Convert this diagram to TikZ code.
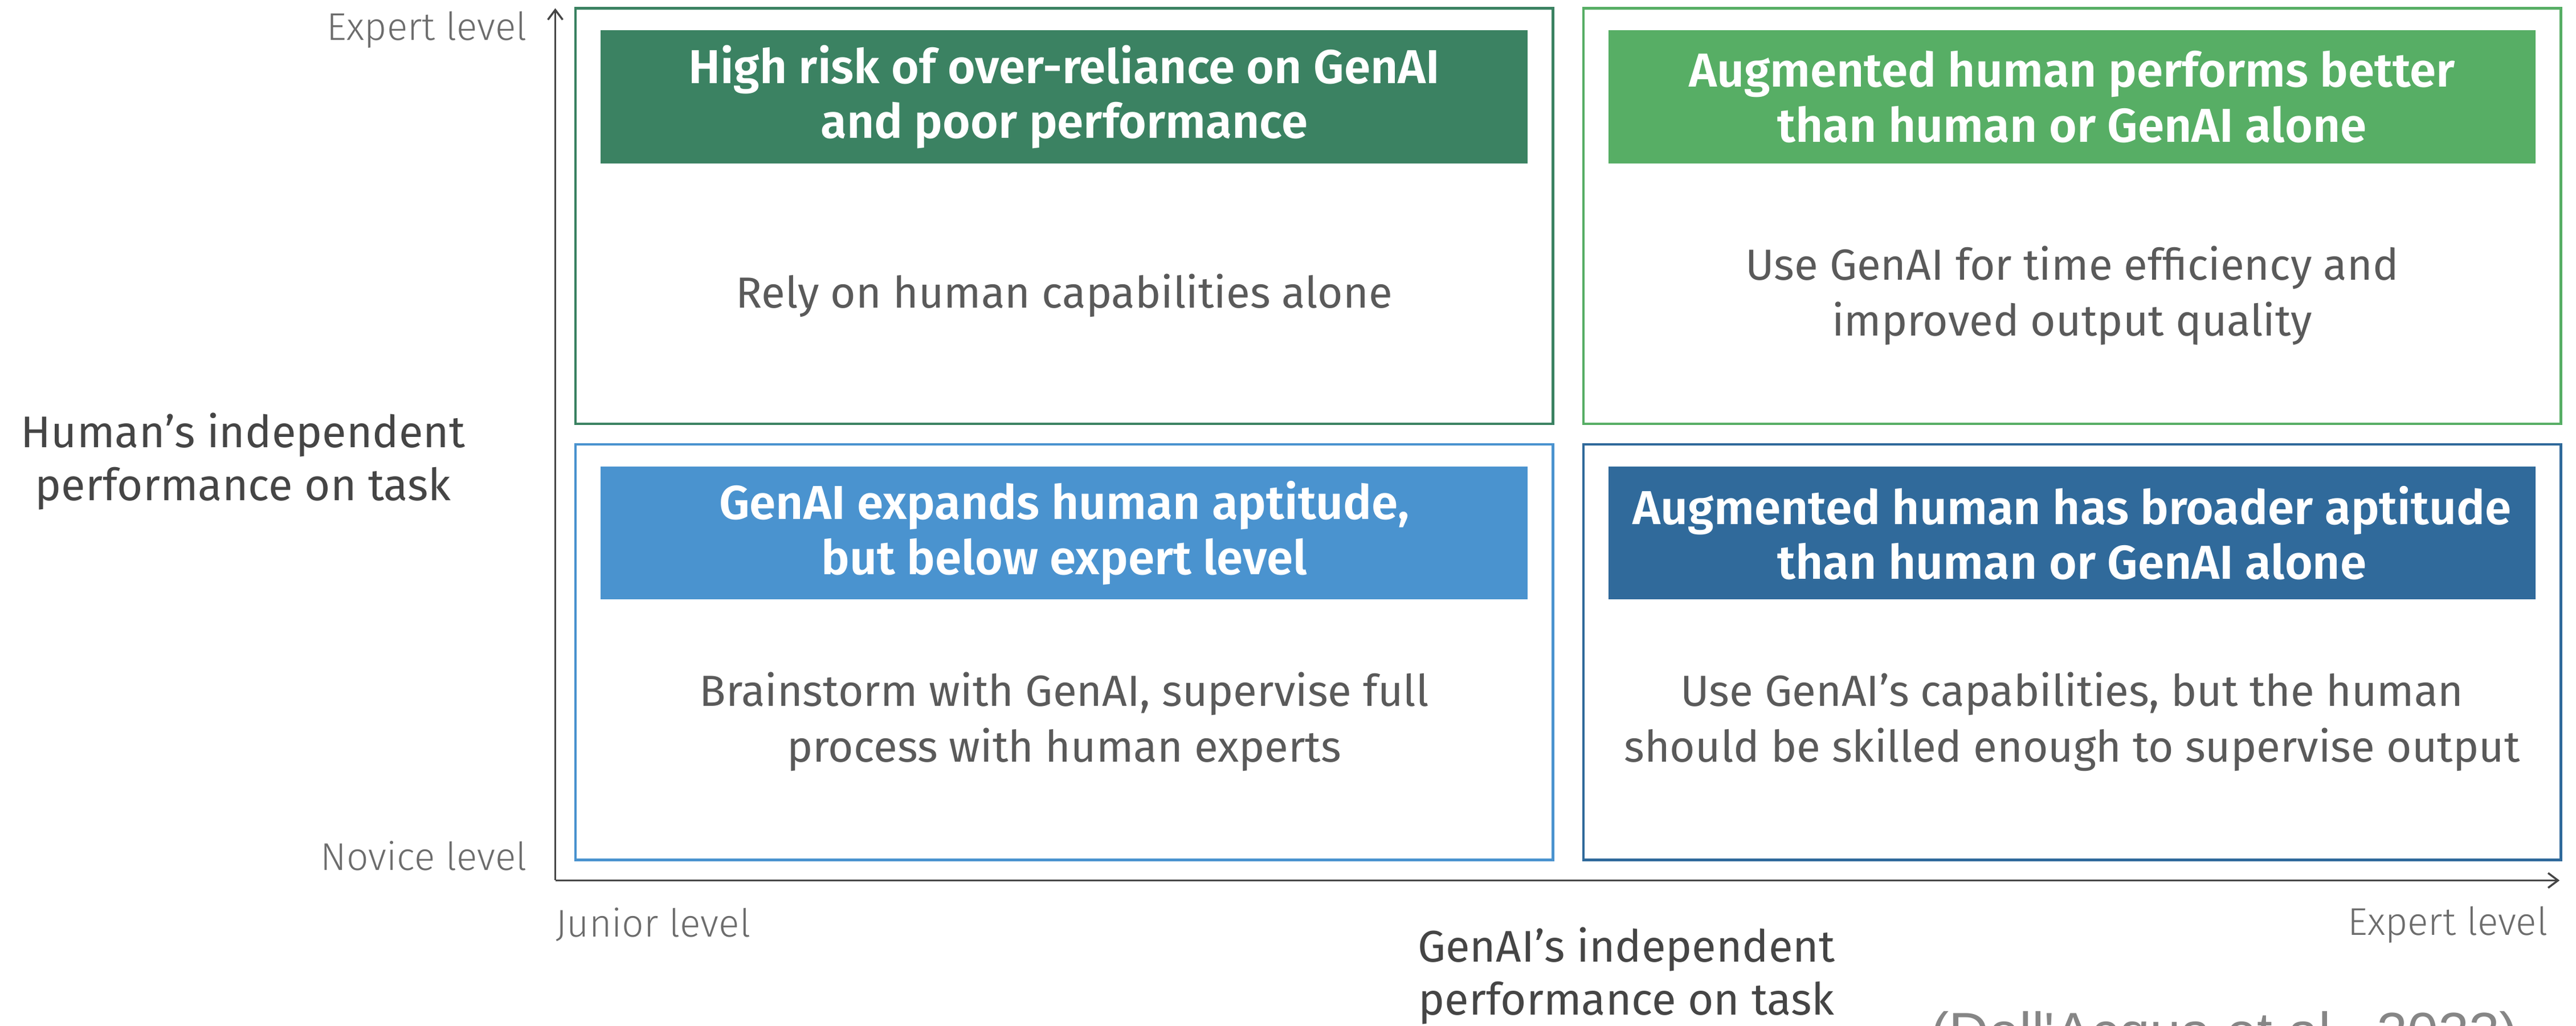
\documentclass[tikz,border=0pt]{standalone}
\usepackage{fontspec}
\setmainfont{Fira Sans}[BoldFont={Fira Sans SemiBold}]
\newfontfamily\lightfont{Fira Sans Light}
\newfontfamily\citefont{Liberation Sans}
\usetikzlibrary{arrows.meta,positioning}

\definecolor{riskgreen}{HTML}{3B8262}
\definecolor{bettergreen}{HTML}{57AE65}
\definecolor{expandblue}{HTML}{4A93CF}
\definecolor{broadblue}{HTML}{306A9B}
\definecolor{bodygray}{HTML}{5A5A5A}
\definecolor{axisgray}{HTML}{454545}

\begin{document}
\begin{tikzpicture}[x=1pt, y=-1pt,
    quad/.style={rectangle, draw=#1, line width=1.5pt, minimum width=595pt, minimum height=253pt, inner sep=0pt},
    head/.style={rectangle, fill=#1, text=white, minimum width=564.5pt, minimum height=81pt, inner sep=0pt, align=center, font=\bfseries\fontsize{29}{33.5}\selectfont},
    body/.style={text=bodygray, align=center, font=\fontsize{26.5}{34}\selectfont},
    axislabel/.style={text=gray!85!black, inner sep=0pt, font=\lightfont\fontsize{23.5}{26}\selectfont},
    axistitle/.style={text=axisgray, align=center, font=\fontsize{27}{32.3}\selectfont}]

    \useasboundingbox (0,0) rectangle (1568,624.3);

    % quadrants
    \node[quad=riskgreen] (q1) at (647.75,131.5) {};
    \node[quad=bettergreen, right of=q1, node distance=613.5pt] (q2) {};
    \node[quad=expandblue, below of=q1, node distance=265.5pt] (q3) {};
    \node[quad=broadblue, right of=q3, node distance=613.5pt] (q4) {};

    \node[head=riskgreen, above of=q1, node distance=72.5pt] (h1) {High risk of over-reliance on GenAI\\and poor performance};
    \node[head=bettergreen, above of=q2, node distance=72.5pt] (h2) {Augmented human performs better\\than human or GenAI alone};
    \node[head=expandblue, above of=q3, node distance=72.5pt] (h3) {GenAI expands human aptitude,\\but below expert level};
    \node[head=broadblue, above of=q4, node distance=72.5pt] (h4) {Augmented human has broader aptitude\\than human or GenAI alone};

    \node[body, below of=h1, node distance=121pt] (b1) {Rely on human capabilities alone};
    \node[body, below of=h2, node distance=121pt] (b2) {Use GenAI for time efficiency and\\improved output quality};
    \node[body, below of=h3, node distance=115pt] (b3) {Brainstorm with GenAI, supervise full\\process with human experts};
    \node[body, below of=h4, node distance=115pt] (b4) {Use GenAI’s capabilities, but the human\\should be skilled enough to supervise output};

    % axes
    \coordinate (origin) at (338,536);
    \coordinate (ytip) at (338,5);
    \coordinate (xtip) at (1558,536);
    \draw[axisgray, line width=1.2pt, -{Straight Barb[length=6pt, width=9pt]}] (origin) -- (ytip);
    \draw[axisgray, line width=1.2pt, -{Straight Barb[length=6pt, width=9pt]}] (origin) -- (xtip);

    \node[axislabel, anchor=east] (ymax) at (321,18) {Expert level};
    \node[axislabel, anchor=east] (ymin) at (321,521) {Novice level};
    \node[axislabel, anchor=west] (xmin) at (338,563) {Junior level};
    \node[axislabel, anchor=east] (xmax) at (1551,563) {Expert level};

    \node[axistitle] (ytitle) at (148,281) {Human’s independent\\performance on task};
    \node[axistitle] (xtitle) at (990,594) {GenAI’s independent\\performance on task};

    \node[text=gray!95!white, inner sep=0pt, anchor=base west, font=\citefont\fontsize{33.6}{40}\selectfont] (source) at (1175,640) {(Dell'Acqua et al., 2023)};
\end{tikzpicture}
\end{document}
